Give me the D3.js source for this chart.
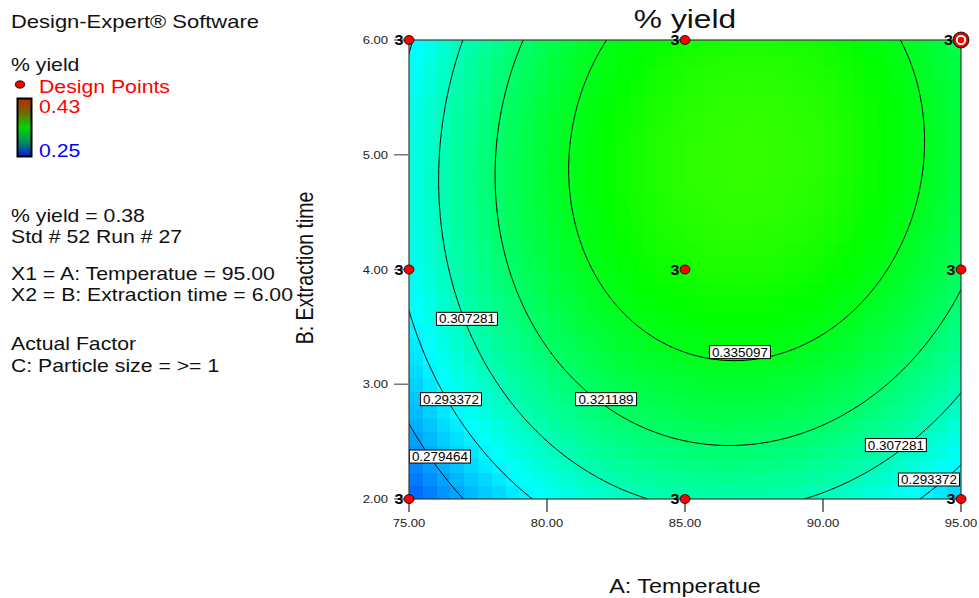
<!DOCTYPE html>
<html>
<head>
<meta charset="utf-8">
<script src="https://cdn.jsdelivr.net/npm/d3@7"></script>
<style>
  body { margin: 0; background: #fff; }
  svg { display: block; }
  text { font-family: Arial, "Liberation Sans", sans-serif; }
</style>
</head>
<body>
<svg id="chart" width="979" height="598"></svg>
<script>
// ---- Factor axes ----
const tempTicks = [75, 80, 85, 90, 95];          // A: Temperatue
const timeTicks = [2, 3, 4, 5, 6];               // B: Extraction time

// ---- Design points (replicate counts drawn beside each point) ----
const designTemp = [75, 75, 75, 85, 85, 85, 95, 95, 95];
const designTime = [2, 4, 6, 2, 4, 6, 2, 4, 6];
const designReps = [3, 3, 3, 3, 3, 3, 3, 3, 3];
const selectedPoint = [95, 6];                   // Std # 52 Run # 27

// ---- Fitted quadratic model in coded units: b0, A, B, A², B², AB ----
const coefNames = ["b0", "A", "B", "A2", "B2", "AB"];
const coefValues = [0.3434, 0.01338, 0.01667, -0.0337, -0.0175, 0.00334];

// ---- Contour levels and their labels ----
const contourLevels = [0.279464, 0.293372, 0.307281, 0.321189, 0.335097];
const labelLevels = [0.307281, 0.293372, 0.279464, 0.321189, 0.335097, 0.307281, 0.293372];
const labelTemp   = [77.10, 76.52, 76.12, 82.14, 86.99, 92.64, 93.84];
const labelTime   = [3.57, 2.87, 2.37, 2.87, 3.28, 2.47, 2.17];

// ---- Colour legend range ----
const legendRange = [0.25, 0.43];

// ---- Side panel text ----
const infoLines = [
  "% yield = 0.38",
  "Std # 52 Run # 27",
  "",
  "X1 = A: Temperatue = 95.00",
  "X2 = B: Extraction time = 6.00",
  "",
  "Actual Factor",
  "C: Particle size = >= 1"
];

const coef = Object.fromEntries(coefNames.map((n, i) => [n, coefValues[i]]));
function predict(A, B) {
  const a = (A - 85) / 10, b = (B - 4) / 2;
  return coef.b0 + coef.A * a + coef.B * b + coef.A2 * a * a + coef.B2 * b * b + coef.AB * a * b;
}

const svg = d3.select("#chart");
const SX = 1.18;  // horizontal glyph stretch

const plot = { left: 409, right: 961, top: 40, bottom: 499 };
const x = d3.scaleLinear().domain([75, 95]).range([plot.left, plot.right]);
const y = d3.scaleLinear().domain([2, 6]).range([plot.bottom, plot.top]);

const color = d3.scaleLinear()
  .domain([0, 0.25, 0.5, 0.75, 1].map(t => legendRange[0] + t * (legendRange[1] - legendRange[0])))
  .range(["#0000ff", "#00ffff", "#00ff00", "#ffff00", "#ff0000"])
  .clamp(true);

function label(g, px, py, s, size, opts = {}) {
  const t = g.append("text")
    .attr("transform", `translate(${px},${py}) scale(${opts.sx || SX},1)` + (opts.rotate ? ` rotate(${opts.rotate})` : ""))
    .attr("font-size", size)
    .attr("fill", opts.fill || "#111")
    .attr("text-anchor", opts.anchor || "start")
    .text(s);
  if (opts.weight) t.attr("font-weight", opts.weight);
  return t;
}

// ---- Clip for plot area ----
svg.append("defs").append("clipPath").attr("id", "plotClip")
  .append("rect")
  .attr("x", plot.left).attr("y", plot.top)
  .attr("width", plot.right - plot.left).attr("height", plot.bottom - plot.top);

// ---- Shaded response surface (coarse cells) ----
const nCellA = 40, nCellB = 34;
const cells = [];
for (let i = 0; i < nCellA; i++) {
  for (let j = 0; j < nCellB; j++) {
    const a0 = 75 + i * 20 / nCellA, a1 = 75 + (i + 1) * 20 / nCellA;
    const b0 = 2 + j * 4 / nCellB, b1 = 2 + (j + 1) * 4 / nCellB;
    cells.push({ a0, a1, b0, b1, v: predict((a0 + a1) / 2, (b0 + b1) / 2) });
  }
}
const surf = svg.append("g").attr("clip-path", "url(#plotClip)");
surf.selectAll("rect.cell").data(cells).join("rect")
  .attr("class", "cell")
  .attr("x", d => x(d.a0))
  .attr("y", d => y(d.b1))
  .attr("width", d => x(d.a1) - x(d.a0) + 0.6)
  .attr("height", d => y(d.b0) - y(d.b1) + 0.6)
  .attr("fill", d => color(d.v))
  .attr("shape-rendering", "crispEdges");

// ---- Contour lines ----
const gA0 = 73, gA1 = 97, gB0 = 1.5, gB1 = 6.5, nGA = 241, nGB = 251;
const dA = (gA1 - gA0) / (nGA - 1), dB = (gB1 - gB0) / (nGB - 1);
const grid = new Array(nGA * nGB);
for (let j = 0; j < nGB; j++)
  for (let i = 0; i < nGA; i++)
    grid[i + j * nGA] = predict(gA0 + i * dA, gB0 + j * dB);

const contours = d3.contours().size([nGA, nGB]).thresholds(contourLevels)(grid);
const proj = d3.geoTransform({
  point(px, py) {
    this.stream.point(x(gA0 + (px - 0.5) * dA), y(gB0 + (py - 0.5) * dB));
  }
});
surf.selectAll("path.contour").data(contours).join("path")
  .attr("class", "contour")
  .attr("d", d3.geoPath(proj))
  .attr("fill", "none")
  .attr("stroke", "#000")
  .attr("stroke-width", 1);

// ---- Contour labels ----
const fmt = d3.format(".6f");
const labG = svg.append("g").attr("clip-path", "url(#plotClip)");
labelLevels.forEach((lv, i) => {
  const cx = x(labelTemp[i]), cy = y(labelTime[i]);
  const w = 61, h = 13;
  labG.append("rect")
    .attr("x", cx - w / 2).attr("y", cy - h / 2)
    .attr("width", w).attr("height", h)
    .attr("fill", "#fff").attr("stroke", "#000").attr("stroke-width", 1);
  label(labG, cx, cy + 4.5, fmt(lv), 12, { anchor: "middle", fill: "#000", sx: 1.12 });
});

// ---- Plot frame ----
svg.append("rect")
  .attr("x", plot.left).attr("y", plot.top)
  .attr("width", plot.right - plot.left).attr("height", plot.bottom - plot.top)
  .attr("fill", "none").attr("stroke", "#3a3a3a").attr("stroke-width", 1.2);

// ---- Axes ----
const axG = svg.append("g");
axG.selectAll("line.yt").data(timeTicks).join("line")
  .attr("x1", plot.left - 15).attr("x2", plot.left)
  .attr("y1", d => y(d)).attr("y2", d => y(d))
  .attr("stroke", "#777").attr("stroke-width", 1.5);
timeTicks.forEach(t => label(axG, plot.left - 21, y(t) + 4, d3.format(".2f")(t), 11, { anchor: "end", fill: "#222" }));

axG.selectAll("line.xt").data(tempTicks).join("line")
  .attr("y1", plot.bottom).attr("y2", plot.bottom + 13)
  .attr("x1", d => x(d)).attr("x2", d => x(d))
  .attr("stroke", "#222").attr("stroke-width", 1.2);
tempTicks.forEach(t => label(axG, x(t), plot.bottom + 28, d3.format(".2f")(t), 11, { anchor: "middle", fill: "#222" }));

// Axis titles and chart title
label(svg, (plot.left + plot.right) / 2, 593, "A: Temperatue", 19.5, { anchor: "middle", sx: 1.2 });
label(svg, 313, 268, "B: Extraction time", 19.5, { anchor: "middle", rotate: -90, sx: 1.2 });
label(svg, (plot.left + plot.right) / 2, 28, "% yield", 26, { anchor: "middle", sx: 1.22 });

// ---- Design points ----
const ptG = svg.append("g");
designTemp.forEach((A, i) => {
  const cx = x(A), cy = y(designTime[i]);
  const isSel = A === selectedPoint[0] && designTime[i] === selectedPoint[1];
  if (isSel) {
    ptG.append("circle").attr("cx", cx).attr("cy", cy).attr("r", 8).attr("fill", "#e00000").attr("stroke", "#000").attr("stroke-width", 0.8);
    ptG.append("circle").attr("cx", cx).attr("cy", cy).attr("r", 5.5).attr("fill", "#fff").attr("stroke", "#600").attr("stroke-width", 0.6);
    ptG.append("circle").attr("cx", cx).attr("cy", cy).attr("r", 3.3).attr("fill", "#ff0000");
  } else {
    ptG.append("ellipse").attr("cx", cx).attr("cy", cy).attr("rx", 5).attr("ry", 4.5)
      .attr("fill", "#ff0000").attr("stroke", "#000").attr("stroke-width", 0.8);
  }
  label(ptG, cx - (isSel ? 8 : 5.5), cy + 5, String(designReps[i]), 14, { anchor: "end", weight: "bold", fill: "#000", sx: 1.15 });
});

// ---- Side panel: header, legend, info ----
const side = svg.append("g");
label(side, 11, 28, "Design-Expert® Software", 18, { sx: 1.22 });
label(side, 11, 71, "% yield", 18);
side.append("ellipse").attr("cx", 20).attr("cy", 84.5).attr("rx", 4.5).attr("ry", 3.6)
  .attr("fill", "#ff0000").attr("stroke", "#000").attr("stroke-width", 1);
label(side, 39, 93, "Design Points", 18, { fill: "#ff0000" });

const grad = svg.select("defs").append("linearGradient")
  .attr("id", "legendGrad").attr("x1", 0).attr("x2", 0).attr("y1", 0).attr("y2", 1);
[["0%", "#c02800"], ["22%", "#7a6000"], ["50%", "#00d800"], ["75%", "#009060"], ["100%", "#0018d8"]]
  .forEach(([o, c]) => grad.append("stop").attr("offset", o).attr("stop-color", c));
side.append("rect").attr("x", 17.5).attr("y", 98.5).attr("width", 14).attr("height", 58)
  .attr("fill", "url(#legendGrad)").attr("stroke", "#000").attr("stroke-width", 2);
label(side, 39, 113, d3.format(".2f")(legendRange[1]), 18, { fill: "#ff0000" });
label(side, 39, 157, d3.format(".2f")(legendRange[0]), 18, { fill: "#0000ff" });

const infoBase = [222, 243, 0, 280, 301, 0, 350, 372];
infoLines.forEach((s, i) => { if (s) label(side, 11, infoBase[i], s, 18); });
</script>
</body>
</html>
